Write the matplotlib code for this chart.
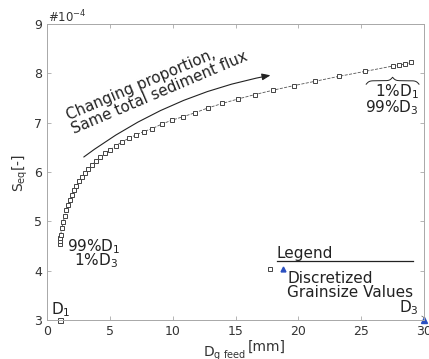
import numpy as np
import matplotlib
matplotlib.use("Agg")
import matplotlib.pyplot as plt

# D_g,feed [mm] and S_eq [x1e-4]
dg_feed = [1.035, 1.052, 1.070, 1.089, 1.185, 1.291, 1.405, 1.530, 1.666, 1.814,
           1.974, 2.150, 2.340, 2.548, 2.774, 3.020, 3.288, 3.580, 3.898, 4.244,
           4.621, 5.031, 5.477, 5.963, 6.493, 7.069, 7.696, 8.380, 9.124, 9.934,
           10.815, 11.776, 12.82, 13.96, 15.20, 16.55, 18.02, 19.62, 21.36, 23.25,
           25.32, 27.56, 28.03, 28.51, 28.99]
s_eq = [4.55, 4.61, 4.67, 4.73, 4.86, 4.99, 5.11, 5.22, 5.33, 5.43,
        5.53, 5.63, 5.72, 5.81, 5.90, 5.98, 6.06, 6.14, 6.22, 6.30,
        6.38, 6.45, 6.53, 6.61, 6.68, 6.75, 6.82, 6.88, 6.97, 7.05,
        7.12, 7.20, 7.30, 7.39, 7.48, 7.57, 7.66, 7.75, 7.84, 7.94,
        8.04, 8.15, 8.17, 8.19, 8.22]
d1_point = (1.0, 3.0)
d3_point = (30.0, 3.0)

TXT = "#333333"
INK = "#222222"
GRID = "#a8a8a8"


def curly_brace(ax, x0, x1, y, h, beta=18.0, **kw):
    # overbrace between x0 and x1, base at y, tip at y + h
    xh = np.linspace(0.0, 1.0, 120)
    yh = (1 / (1 + np.exp(-beta * (xh - xh[0])))
          + 1 / (1 + np.exp(-beta * (xh - xh[-1])))) - 0.5
    ys = np.concatenate([yh, yh[-2::-1]])
    xs = np.linspace(x0, x1, ys.size)
    ax.plot(xs, y + h * ys, **kw)


fig = plt.figure(figsize=(4.29, 3.59), dpi=100, facecolor="white")
ax = fig.add_axes([47 / 429, 1 - 320 / 359, 377 / 429, 296 / 359])

ax.plot(dg_feed, s_eq, linestyle="--", color="#555555", linewidth=0.6,
        marker="s", markersize=3.2, markerfacecolor="white",
        markeredgecolor="#444444", markeredgewidth=0.7)
ax.plot(*d1_point, marker="s", markersize=3.6, markerfacecolor="white",
        markeredgecolor="#444444", markeredgewidth=0.7, clip_on=False)
ax.plot(*d3_point, marker="^", markersize=4, color="#2a4fc0", clip_on=False)

ax.set_xlim(0, 30)
ax.set_ylim(3, 9)
ax.set_xticks([0, 5, 10, 15, 20, 25, 30])
ax.set_yticks([3, 4, 5, 6, 7, 8, 9])
ax.tick_params(direction="in", top=True, right=True, length=3, width=0.6,
               colors=GRID, labelcolor=TXT, labelsize=9)
for s in ax.spines.values():
    s.set_color(GRID)
    s.set_linewidth(0.7)

fig.text(48 / 429, 1 - 17 / 359, "#10$^{-4}$", fontsize=8.5, color=TXT,
         va="center", ha="left")
fig.text(20 / 429, 1 - 173 / 359, "S$_{\\rm eq}$[-]", fontsize=10, color=TXT,
         rotation=90, va="center", ha="center")
fig.text(203 / 429, 1 - 354 / 359, "D$_{\\rm g\\ feed}$", fontsize=10,
         color=TXT, va="center", ha="left")
fig.text(248 / 429, 1 - 347 / 359, "[mm]", fontsize=10, color=TXT,
         va="center", ha="left")

# annotations
ax.text(8.75, 7.74, "Changing proportion,\nSame total sediment flux",
        rotation=23, fontsize=10.8, color=INK, ha="center", va="center",
        multialignment="left", linespacing=1.0, rotation_mode="anchor")
ax.annotate("", xy=(18.0, 7.97), xytext=(2.75, 6.27),
            arrowprops=dict(arrowstyle="-|>,head_length=0.5,head_width=0.2",
                            color=INK, lw=0.8,
                            connectionstyle="arc3,rad=-0.12"))

ax.text(1.6, 4.48, "99%D$_1$", fontsize=11, color=INK, ha="left",
        va="center")
ax.text(5.65, 4.2, "1%D$_3$", fontsize=11, color=INK, ha="right",
        va="center")

curly_brace(ax, 25.4, 29.6, 7.78, 0.14, color=INK, lw=0.7)
ax.text(29.6, 7.63, "1%D$_1$", fontsize=11, color=INK, ha="right",
        va="center")
ax.text(29.6, 7.31, "99%D$_3$", fontsize=11, color=INK, ha="right",
        va="center")

ax.text(0.35, 3.2, "D$_1$", fontsize=11, color=INK, ha="left",
        va="center")
ax.annotate("D$_3$", xy=(30.0, 3.05), xytext=(29.6, 3.25), fontsize=11,
            color=INK, ha="right", va="center",
            arrowprops=dict(arrowstyle="-", color="#555555", lw=0.5))

# legend drawn by hand like the original
ax.text(18.3, 4.35, "Legend", fontsize=11, color=INK, ha="left",
        va="center")
ax.plot([18.3, 29.1], [4.2, 4.2], color=INK, lw=0.9)
ax.plot(17.78, 4.03, marker="s", markersize=3.2, markerfacecolor="white",
        markeredgecolor="#444444", markeredgewidth=0.7)
ax.plot(18.78, 4.03, marker="^", markersize=3.5, color="#2a4fc0")
ax.text(19.1, 4.0, "Discretized\nGrainsize Values", fontsize=11,
        color=INK, ha="left", va="top", linespacing=0.95)

fig.savefig("out.png", dpi=100, facecolor="white")
